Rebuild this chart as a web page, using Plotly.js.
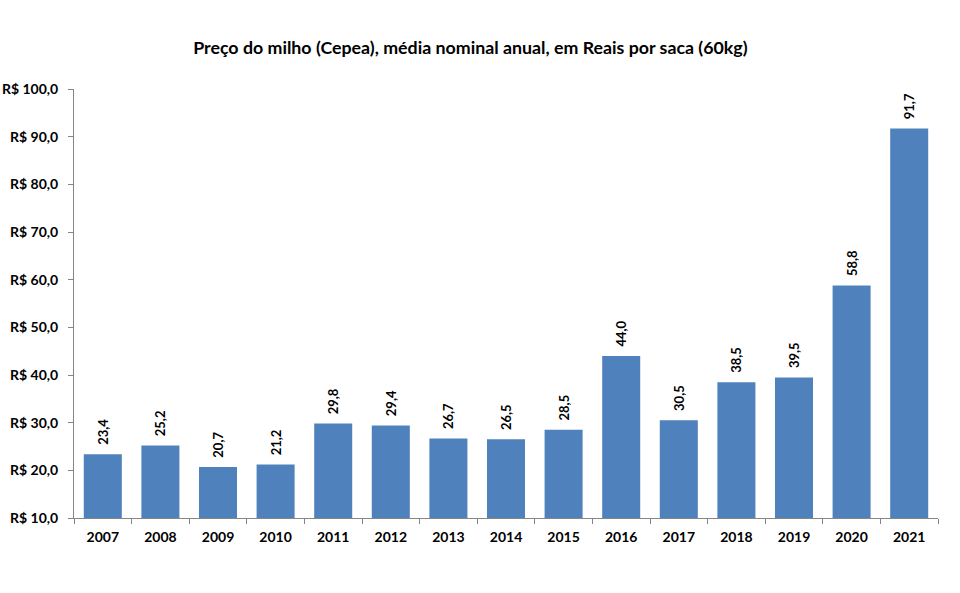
<!DOCTYPE html>
<html><head><meta charset="utf-8">
<script src="https://cdn.plot.ly/plotly-3.0.1.min.js"></script>
<style>body{margin:0;background:#fff}#c{width:960px;height:593px}</style>
</head><body><div id="c"></div>
<script>
const years = ["2007","2008","2009","2010","2011","2012","2013","2014","2015","2016","2017","2018","2019","2020","2021"];
const prices = [23.4,25.2,20.7,21.2,29.8,29.4,26.7,26.5,28.5,44.0,30.5,38.5,39.5,58.8,91.7];
const yTicks = [10,20,30,40,50,60,70,80,90,100];
const yTickLabels = yTicks.map(v => "R$ " + v.toFixed(1).replace(".", ","));
const barLabels = prices.map(v => "\u00A0\u00A0" + v.toFixed(1).replace(".", ","));
const F = "Lato, 'Open Sans', sans-serif";
Plotly.newPlot("c", [{
  type: "bar", x: years, y: prices,
  marker: {color: "#4F81BD"},
  text: barLabels, textposition: "outside", textangle: -90,
  textfont: {family: F, size: 13, color: "#000", weight: "bold"},
  cliponaxis: true, width: 0.66, hoverinfo: "skip"
}], {
  width: 960, height: 593,
  margin: {l: 74, r: 22, t: 89, b: 75},
  paper_bgcolor: "#fff", plot_bgcolor: "#fff",
  title: {text: "Preço do milho (Cepea), média nominal anual, em Reais por saca (60kg)",
    font: {family: F, size: 17.8, color: "#000", weight: "bold"}, x: 0.49, xanchor: "center", y: 0.92, yanchor: "middle"},
  xaxis: {type: "category", showline: true, linecolor: "#868686", linewidth: 1,
    ticks: "outside", ticklen: 5, tickcolor: "#868686", tickson: "boundaries",
    ticklabelstandoff: 6,
    tickfont: {family: F, size: 14, color: "#000", weight: "bold"}, showgrid: false},
  yaxis: {range: [10, 100], showline: true, linecolor: "#868686", linewidth: 1,
    ticks: "outside", ticklen: 5, tickcolor: "#868686", ticklabelstandoff: 7,
    tickvals: yTicks, ticktext: yTickLabels, showgrid: false, zeroline: false,
    tickfont: {family: F, size: 14, color: "#000", weight: "bold"}},
  showlegend: false
}, {displayModeBar: false, staticPlot: true});
</script></body></html>
